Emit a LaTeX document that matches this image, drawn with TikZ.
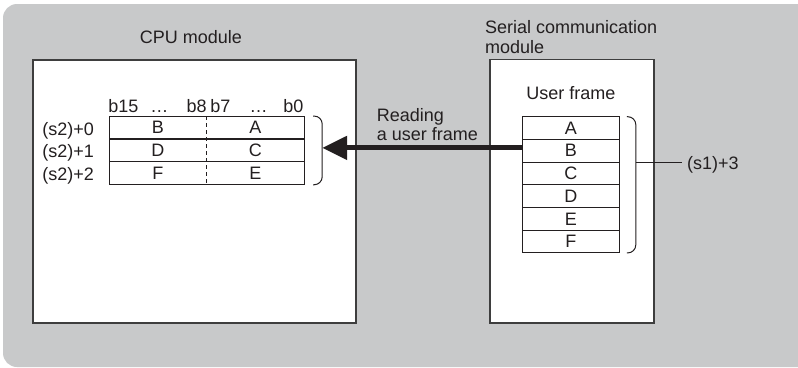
\documentclass[tikz,border=0pt]{standalone}
\usepackage{fontspec}
\setmainfont{Liberation Sans}
\usetikzlibrary{arrows.meta,positioning}
\definecolor{panelgray}{RGB}{200,201,202}
\definecolor{framegray}{RGB}{62,62,62}
\definecolor{inkblack}{RGB}{35,31,32}

\begin{document}
\begin{tikzpicture}[x=1pt,y=-1pt,
  every node/.style={font=\fontsize{18}{20}\selectfont,text=inkblack},
  modbox/.style={draw=framegray,fill=white,line width=1.3pt,
    inner sep=0pt,outer sep=0pt},
  wordrow/.style={draw=inkblack,line width=1.1pt,minimum width=195pt,
    minimum height=22.9pt,inner sep=0pt,outer sep=0pt},
  framecell/.style={draw=inkblack,line width=1.1pt,minimum width=97pt,
    minimum height=22.7pt,inner sep=0pt,outer sep=0pt},
  bitlbl/.style={anchor=base,inner sep=0pt},
  addrlbl/.style={anchor=base east,inner sep=0pt},
  bracketline/.style={draw=inkblack,line width=1pt,rounded corners=8pt},
  readarrow/.style={-{Triangle[length=25pt,width=23pt]},line width=5pt,
    draw=inkblack}]
\useasboundingbox (0,0) rectangle (798,367);
\fill[panelgray,rounded corners=14pt] (3,4) rectangle (812,367);

% the two modules
\node[modbox,minimum width=323pt,minimum height=263pt](cpu)
  at (194.5,191.5) {};
\node[modbox,minimum width=164pt,minimum height=263.5pt](serial)
  at (572,191.3) {};
\node(cpulbl) at (191,37.5) {CPU module};
\node[anchor=north west,align=left,inner sep=0pt,
      font=\fontsize{18}{20.5}\selectfont](seriallbl)
  at (485,20) {Serial communication\\module};

% device words in the CPU module
\node[wordrow](w0) at (206.7,127.5) {};
\node[wordrow,below=0pt of w0](w1) {};
\node[wordrow,below=0pt of w1](w2) {};
\draw[draw=inkblack,line width=0.9pt,dash pattern=on 4pt off 3pt]
  (w0.north)--(w2.south);
\node(w0hi) at ([xshift=-48.75pt]w0.center) {B};
\node(w0lo) at ([xshift=48.75pt]w0.center) {A};
\node(w1hi) at ([xshift=-48.75pt]w1.center) {D};
\node(w1lo) at ([xshift=48.75pt]w1.center) {C};
\node(w2hi) at ([xshift=-48.75pt]w2.center) {F};
\node(w2lo) at ([xshift=48.75pt]w2.center) {E};
\node[bitlbl](b15) at (123.3,112.3) {b15};
\node[bitlbl](hidots) at (159.3,112.3) {…};
\node[bitlbl](b8) at (196.7,112.3) {b8};
\node[bitlbl](b7) at (220.3,112.3) {b7};
\node[bitlbl](lodots) at (258.7,112.3) {…};
\node[bitlbl](b0) at (293.3,112.3) {b0};
\node[addrlbl](s20) at ([xshift=-15pt,yshift=-7.5pt]w0.west) {(s2)+0};
\node[addrlbl](s21) at ([xshift=-15pt,yshift=-7.5pt]w1.west) {(s2)+1};
\node[addrlbl](s22) at ([xshift=-15pt,yshift=-7.5pt]w2.west) {(s2)+2};
\draw[bracketline]([xshift=9pt]w0.north east)--([xshift=18pt]w0.north east)
  --([xshift=18pt]w2.south east)--([xshift=9pt]w2.south east);
\coordinate(cpubr) at ([xshift=18pt,yshift=2.5pt]w1.east);

% user frame in the serial communication module
\node(uflbl) at (570.8,93.3) {User frame};
\node[framecell](fA) at (570.8,128.05) {A};
\node[framecell,below=0pt of fA](fB) {B};
\node[framecell,below=0pt of fB](fC) {C};
\node[framecell,below=0pt of fC](fD) {D};
\node[framecell,below=0pt of fD](fE) {E};
\node[framecell,below=0pt of fE](fF) {F};
\draw[bracketline]([xshift=7.5pt]fA.north east)--([xshift=16.5pt]fA.north east)
  --([xshift=16.5pt]fF.south east)--([xshift=7.5pt]fF.south east);
\coordinate(frbr) at ([xshift=16.5pt]fB.south east);
\node[anchor=base west,inner sep=0pt](s13)
  at ([xshift=51pt,yshift=-7.5pt]frbr) {(s1)+3};
\coordinate(s13tip) at ([xshift=-5pt]s13.west);
\draw[draw=inkblack,line width=1pt](frbr)--(frbr -| s13tip);

% reading
\draw[readarrow](fB.west |- cpubr)--(cpubr);
\node[anchor=north west,align=left,inner sep=0pt,
      font=\fontsize{18}{18.5}\selectfont](readlbl)
  at (376.7,108.5) {Reading\\a user frame};
\end{tikzpicture}
\end{document}
